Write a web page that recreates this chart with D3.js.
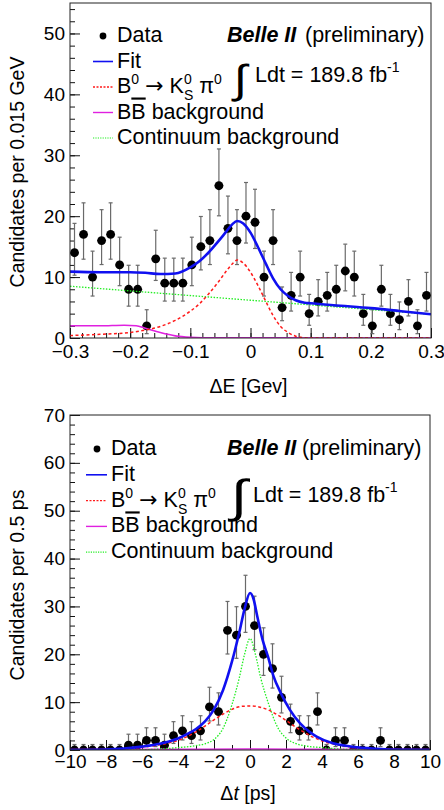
<!DOCTYPE html>
<html>
<head>
<meta charset="utf-8">
<script src="https://cdn.jsdelivr.net/npm/d3@7"></script>
<style>
  body { margin: 0; background: #fff; }
  text { font-family: "Liberation Sans", Arial, Helvetica, sans-serif; }
</style>
</head>
<body>
<svg id="chart" width="444" height="810"></svg>
<script>
const FONT = '"Liberation Sans", Arial, Helvetica, sans-serif';

// Delta E panel: 40 bins of 0.015 GeV
const deBinWidth = 0.015;
const deCounts = [14, 17, 10, 16, 17, 12, 8, 8, 2, 13, 9, 9, 9, 12, 15, 16, 25, 18, 16, 20,
                  19, 10, 16, 5, 7, 10, 4, 6, 7, 8, 11, 10, 4, 2, 8, 4, 3, 6, 2, 7];
const deXTicks = [-0.3, -0.2, -0.1, 0, 0.1, 0.2, 0.3];
const deYTicks = [0, 10, 20, 30, 40, 50];

const deFit = [[-0.30, 10.9], [-0.25, 10.8], [-0.20, 10.8], [-0.175, 10.7], [-0.15, 10.5], [-0.125, 10.6],
  [-0.10, 11.6], [-0.085, 12.6], [-0.07, 14.0], [-0.055, 15.7], [-0.04, 17.5], [-0.03, 18.7], [-0.022, 19.2],
  [-0.012, 18.8], [0.0, 17.3], [0.0125, 14.9], [0.025, 12.3], [0.0375, 9.8], [0.05, 8.0], [0.0625, 6.9],
  [0.075, 6.2], [0.09, 5.8], [0.10, 5.7], [0.15, 5.3], [0.20, 4.9], [0.25, 4.4], [0.30, 3.9]];
const deSignal = [[-0.30, 0.4], [-0.25, 0.6], [-0.20, 0.9], [-0.175, 1.3], [-0.15, 1.9], [-0.125, 2.9],
  [-0.10, 4.4], [-0.085, 5.6], [-0.07, 7.2], [-0.055, 9.0], [-0.04, 11.0], [-0.03, 12.2], [-0.022, 12.8],
  [-0.012, 12.3], [0.0, 10.8], [0.0125, 8.6], [0.025, 6.1], [0.0375, 3.7], [0.05, 1.9], [0.0625, 0.9],
  [0.075, 0.3], [0.09, 0.05], [0.10, 0], [0.30, 0]];
const deBBbar = [[-0.30, 2.0], [-0.25, 2.0], [-0.21, 2.1], [-0.19, 2.0], [-0.175, 1.6], [-0.15, 0.9],
  [-0.125, 0.35], [-0.10, 0.1], [-0.08, 0.03], [0.30, 0.0]];
const deContinuum = [[-0.30, 8.5], [-0.15, 7.35], [0.0, 6.2], [0.15, 5.05], [0.30, 3.9]];

// Delta t panel: 40 bins of 0.5 ps
const dtBinWidth = 0.5;
const dtCounts = [0, 0, 0, 0, 0, 0, 1, 1, 2, 2, 1, 3, 4, 3, 4, 9, 8, 25, 24, 30,
                  26, 20, 17, 11, 6, 4, 4, 8, 0, 2, 2, 0, 0, 0, 2, 0, 0, 0, 0, 0];
const dtXTicks = [-10, -8, -6, -4, -2, 0, 2, 4, 6, 8, 10];
const dtYTicks = [0, 10, 20, 30, 40, 50, 60, 70];

const dtFit = [[-10, 0], [-8, 0.1], [-7, 0.3], [-6, 0.7], [-5, 1.3], [-4.5, 1.8], [-4, 2.4], [-3.5, 3.3],
  [-3, 4.4], [-2.5, 6.0], [-2, 8.5], [-1.5, 12.5], [-1, 18.5], [-0.6, 24.5], [-0.3, 29.5], [0, 32.8],
  [0.2, 31.5], [0.4, 28], [0.7, 23], [1, 19.5], [1.3, 15.5], [1.7, 12], [2.2, 8.5], [2.8, 5.5], [3.3, 3.8],
  [3.7, 2.8], [4.6, 1.4], [5.5, 0.8], [6.5, 0.4], [7.5, 0.15], [8.5, 0.05], [10, 0]];
const dtSignal = [[-10, 0], [-8, 0.1], [-7, 0.3], [-6, 0.6], [-5, 1.1], [-4, 2.0], [-3, 3.8], [-2.5, 5.0],
  [-2, 6.3], [-1.5, 7.5], [-1, 8.5], [-0.5, 9.1], [0, 9.2], [0.5, 9.0], [1, 8.4], [1.5, 7.4], [2, 6.2],
  [2.5, 4.9], [3, 3.7], [4, 1.9], [5, 1.0], [6, 0.5], [7, 0.25], [8, 0.1], [10, 0]];
const dtBBbar = [[-10, 0.1], [-4, 0.15], [0, 0.2], [4, 0.15], [10, 0.1]];
const dtContinuum = [[-10, 0], [-6, 0.05], [-5, 0.2], [-4, 0.5], [-3, 0.9], [-2.5, 1.3], [-2, 2.2],
  [-1.5, 4.5], [-1, 9.5], [-0.6, 15], [-0.3, 20], [0, 23.3], [0.3, 20], [0.6, 15], [1, 10], [1.5, 5],
  [2, 2.5], [2.5, 1.4], [3, 0.9], [4, 0.5], [5, 0.2], [6, 0.05], [10, 0]];

// asymmetric Poisson (68%) errors per count, [low, high]
const poissonErr = {
  0: [0, 1.15], 1: [0.83, 2.30], 2: [1.29, 2.64], 3: [1.63, 2.92], 4: [1.91, 3.16], 5: [2.16, 3.38],
  6: [2.38, 3.58], 7: [2.58, 3.77], 8: [2.77, 3.94], 9: [2.94, 4.11], 10: [3.11, 4.26], 11: [3.26, 4.41],
  12: [3.41, 4.55], 13: [3.55, 4.69], 14: [3.69, 4.82], 15: [3.82, 4.95], 16: [3.94, 5.07], 17: [4.06, 5.19],
  18: [4.18, 5.30], 19: [4.30, 5.42], 20: [4.41, 5.53], 24: [4.84, 5.94], 25: [4.94, 6.04], 26: [5.04, 6.14],
  30: [5.42, 6.51]
};

const colors = { fit: '#1010f0', signal: '#ff1a1a', bbbar: '#e020e0', cont: '#22ee22' };

const svg = d3.select('#chart');
const fmt = v => v === 0 ? '0' : d3.format('')(v);

function drawPanel(p) {
  const x = d3.scaleLinear().domain(p.xDomain).range([p.left, p.right]);
  const y = d3.scaleLinear().domain(p.yDomain).range([p.bottom, p.top]);
  const g = svg.append('g');

  const xAxisG = g.append('g').attr('transform', `translate(0,${p.bottom})`);
  xAxisG.append('g').call(d3.axisBottom(x).tickValues(p.xMinor).tickSize(-5).tickFormat(''));
  xAxisG.append('g').call(d3.axisBottom(x).tickValues(p.xTicks).tickSize(-10).tickPadding(p.xPad).tickFormat(fmt));

  const yAxisG = g.append('g').attr('transform', `translate(${p.left},0)`);
  yAxisG.append('g').call(d3.axisLeft(y).tickValues(p.yMinor).tickSize(-5).tickFormat(''));
  yAxisG.append('g').call(d3.axisLeft(y).tickValues(p.yTicks).tickSize(-10).tickPadding(5).tickFormat(fmt));

  g.selectAll('.domain').remove();
  g.selectAll('.tick line').attr('stroke', '#111');
  g.selectAll('.tick text').attr('font-size', 19).attr('font-family', FONT).attr('fill', '#000');

  const clipId = 'clip' + p.name;
  svg.append('clipPath').attr('id', clipId).append('rect')
    .attr('x', p.left).attr('y', p.top).attr('width', p.right - p.left).attr('height', p.bottom - p.top);

  const plot = g.append('g').attr('clip-path', `url(#${clipId})`);

  // data points with asymmetric errors
  const bins = p.counts.map((n, i) => {
    const c = p.xDomain[0] + (i + 0.5) * p.binWidth;
    return { c, n, lo: poissonErr[n][0], hi: poissonErr[n][1] };
  });

  const pts = plot.append('g').attr('stroke', '#6a6a6a').attr('stroke-width', 1.2);
  bins.forEach(b => {
    pts.append('line').attr('x1', x(b.c)).attr('x2', x(b.c)).attr('y1', y(b.n - b.lo)).attr('y2', y(b.n + b.hi));
    pts.append('line').attr('x1', x(b.c) - 2).attr('x2', x(b.c) + 2).attr('y1', y(b.n + b.hi)).attr('y2', y(b.n + b.hi));
    if (b.lo > 0) {
      pts.append('line').attr('x1', x(b.c) - 2).attr('x2', x(b.c) + 2).attr('y1', y(b.n - b.lo)).attr('y2', y(b.n - b.lo));
    }
    pts.append('line').attr('x1', x(b.c - p.binWidth / 2)).attr('x2', x(b.c + p.binWidth / 2)).attr('y1', y(b.n)).attr('y2', y(b.n));
  });
  plot.append('g').selectAll('circle').data(bins).enter().append('circle')
    .attr('cx', d => x(d.c)).attr('cy', d => y(d.n)).attr('r', 4.4).attr('fill', '#000');

  const line = d3.line().x(d => x(d[0])).y(d => y(d[1])).curve(d3.curveMonotoneX);

  plot.append('path').attr('d', line(p.bbbar)).attr('fill', 'none')
    .attr('stroke', colors.bbbar).attr('stroke-width', 1.6);
  plot.append('path').attr('d', line(p.cont)).attr('fill', 'none')
    .attr('stroke', colors.cont).attr('stroke-width', 1.3).attr('stroke-dasharray', '1.5,1.5');
  plot.append('path').attr('d', line(p.signal)).attr('fill', 'none')
    .attr('stroke', colors.signal).attr('stroke-width', 1.5).attr('stroke-dasharray', '3,2.5');
  plot.append('path').attr('d', line(p.fit)).attr('fill', 'none')
    .attr('stroke', colors.fit).attr('stroke-width', 2.6);

  // frame
  g.append('rect').attr('x', p.left).attr('y', p.top)
    .attr('width', p.right - p.left).attr('height', p.bottom - p.top)
    .attr('fill', 'none').attr('stroke', '#222').attr('stroke-width', 1);

  // axis titles
  const xt = g.append('text').attr('x', (p.left + p.right) / 2 - 2).attr('y', p.xTitleY)
    .attr('text-anchor', 'middle').attr('font-size', 19.5);
  p.xTitle(xt);
  g.append('text').attr('transform', `translate(24,${p.yTitleMid}) rotate(-90)`)
    .attr('text-anchor', 'middle').attr('font-size', 19.5).text(p.yTitle);

  drawLegend(g, p.legend);
}

function drawLegend(g, L) {
  const fs = 21.5;
  const rows = [
    { key: 'Data' },
    { key: 'Fit', color: colors.fit, width: 1.6 },
    { key: 'signal', color: colors.signal, width: 1.3, dash: '2,1.5' },
    { key: 'bbbar', color: colors.bbbar, width: 1.4 },
    { key: 'cont', color: colors.cont, width: 1.2, dash: '1.2,1.2' }
  ];
  rows.forEach((r, i) => {
    const by = L.y0 + i * L.dy;
    if (r.key === 'Data') {
      g.append('circle').attr('cx', L.dotX).attr('cy', by - 6).attr('r', 3.4).attr('fill', '#000');
    } else {
      g.append('line').attr('x1', L.lineX1).attr('x2', L.lineX2).attr('y1', by - 6).attr('y2', by - 6)
        .attr('stroke', r.color).attr('stroke-width', r.width).attr('stroke-dasharray', r.dash || null);
    }
    const t = g.append('text').attr('x', L.textX).attr('y', by).attr('font-size', fs);
    if (r.key === 'Data') t.text('Data');
    else if (r.key === 'Fit') t.text('Fit');
    else if (r.key === 'signal') {
      t.append('tspan').text('B');
      t.append('tspan').attr('dy', -9).attr('font-size', 14).text('0');
      t.append('tspan').attr('dy', 9).text(' ');
      t.append('tspan').attr('font-family', '"DejaVu Sans", sans-serif').attr('font-size', 22).text('\u2192');
      t.append('tspan').text(' K');
      t.append('tspan').attr('dy', -9).attr('font-size', 14).text('0');
      t.append('tspan').attr('dx', -7.8).attr('dy', 16).attr('font-size', 14).text('S');
      t.append('tspan').attr('dy', -7).text(' \u03c0');
      t.append('tspan').attr('dy', -9).attr('font-size', 14).text('0');
    } else if (r.key === 'bbbar') {
      t.append('tspan').text('B');
      t.append('tspan').style('text-decoration', 'overline').text('B');
      t.append('tspan').text(' background');
    } else t.text('Continuum background');
  });

  const b = g.append('text').attr('x', L.belleX).attr('y', L.y0).attr('font-size', fs);
  b.append('tspan').attr('font-weight', 'bold').attr('font-style', 'italic').text('Belle II');
  b.append('tspan').attr('x', L.prelimX).text('(preliminary)');

  // integral sign, tall and thin like the ROOT glyph
  g.append('text').attr('transform', `translate(${L.intX},${L.intY}) scale(${L.intScale},1)`)
    .attr('font-size', L.intSize).attr('font-family', '"Liberation Serif", "DejaVu Serif", serif').text('\u222b');
  const lum = g.append('text').attr('x', L.ldtX).attr('y', L.ldtY).attr('font-size', fs);
  lum.append('tspan').text('Ldt = 189.8 fb');
  lum.append('tspan').attr('dy', -10).attr('font-size', 14).text('-1');
}

drawPanel({
  name: 'de', left: 70, right: 431, top: 3, bottom: 338,
  xDomain: [-0.3, 0.3], yDomain: [0, 55], binWidth: deBinWidth, counts: deCounts,
  xTicks: deXTicks, xMinor: d3.ticks(-0.3, 0.3, 30), yTicks: deYTicks, yMinor: d3.ticks(0, 55, 27),
  xPad: 7, fit: deFit, signal: deSignal, bbbar: deBBbar, cont: deContinuum,
  xTitleY: 393, yTitleMid: 172, yTitle: 'Candidates per 0.015 GeV',
  xTitle: t => t.text('\u0394E [Gev]'),
  legend: { y0: 42, dy: 25.5, dotX: 103, lineX1: 93, lineX2: 113, textX: 117,
            belleX: 227, prelimX: 305, intX: 234, intY: 93, intSize: 40, intScale: 1.2, ldtX: 255, ldtY: 82 }
});

drawPanel({
  name: 'dt', left: 70, right: 430, top: 415, bottom: 750,
  xDomain: [-10, 10], yDomain: [0, 70], binWidth: dtBinWidth, counts: dtCounts,
  xTicks: dtXTicks, xMinor: d3.ticks(-10, 10, 20), yTicks: dtYTicks, yMinor: d3.ticks(0, 70, 35),
  xPad: 5, fit: dtFit, signal: dtSignal, bbbar: dtBBbar, cont: dtContinuum,
  xTitleY: 800, yTitleMid: 585, yTitle: 'Candidates per 0.5 ps',
  xTitle: t => {
    t.append('tspan').text('\u0394');
    t.append('tspan').attr('font-style', 'italic').text('t');
    t.append('tspan').text(' [ps]');
  },
  legend: { y0: 455, dy: 25.8, dotX: 97, lineX1: 86, lineX2: 107, textX: 111,
            belleX: 227, prelimX: 302, intX: 231, intY: 512, intSize: 46, intScale: 1.3, ldtX: 253, ldtY: 502 }
});
</script>
</body>
</html>
